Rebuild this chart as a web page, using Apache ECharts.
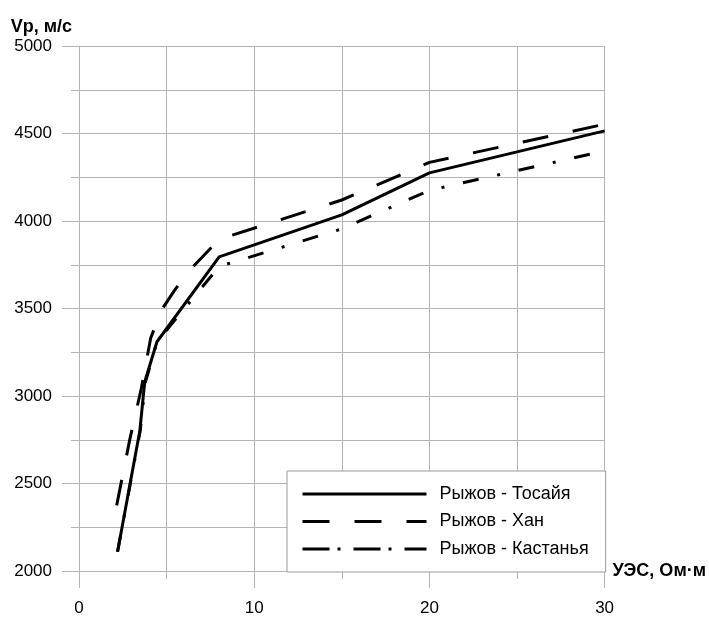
<!DOCTYPE html>
<html>
<head>
<meta charset="utf-8">
<script src="https://cdn.jsdelivr.net/npm/echarts@6/dist/echarts.min.js"></script>
<style>
html,body{margin:0;padding:0;background:#fff;}
#chart{width:709px;height:617px;}
</style>
</head>
<body>
<div id="chart"></div>
<script>
// Data
var seriesNames = ['Рыжов - Тосайя', 'Рыжов - Хан', 'Рыжов - Кастанья'];
var tosaiyaX = [2.2, 3.47, 3.75, 4.45, 8, 15, 20, 30];
var tosaiyaY = [2110, 2800, 3080, 3310, 3795, 4035, 4275, 4515];
var khanX = [2.15, 2.9, 3.56, 4.09, 4.7, 5.45, 6.4, 8, 15, 20, 30];
var khanY = [2375, 2752, 3045, 3330, 3490, 3604, 3727, 3895, 4120, 4335, 4553];
var kastanyaX = [2.2, 3.5, 3.78, 4.45, 8, 15, 20, 30];
var kastanyaY = [2110, 2805, 3075, 3310, 3740, 3955, 4175, 4400];
var xTickLabels = ['0', '10', '20', '30'];
var yTickLabels = ['2000', '2500', '3000', '3500', '4000', '4500', '5000'];
var xAxisName = 'УЭС, Ом·м';
var yAxisName = 'Vp, м/с';

function pairs(xs, ys) { return xs.map(function (x, i) { return [x, ys[i]]; }); }

var gridColor = '#b4b4b4';
var font = 'Liberation Sans, Arial, sans-serif';
var hiddenSymbol = {color: 'rgba(0,0,0,0)', borderColor: 'rgba(0,0,0,0)', borderWidth: 0, opacity: 0};

var chart = echarts.init(document.getElementById('chart'), null, {renderer: 'canvas'});
chart.setOption({
  animation: false,
  backgroundColor: '#fff',
  grid: {left: 79, right: 102, top: 46, bottom: 44, containLabel: false},
  xAxis: {
    type: 'value', min: 0, max: 30, interval: 10,
    name: xAxisName, nameLocation: 'end', nameGap: 8,
    nameTextStyle: {fontFamily: font, fontSize: 18, fontWeight: 'bold', color: '#000', verticalAlign: 'middle', padding: [0, 0, 6, 0]},
    axisLine: {show: true, lineStyle: {color: gridColor, width: 1}},
    axisTick: {show: true, length: 17, lineStyle: {color: gridColor, width: 1}},
    minorTick: {show: true, splitNumber: 2, length: 8, lineStyle: {color: gridColor, width: 1}},
    splitLine: {show: true, lineStyle: {color: gridColor, width: 1}},
    minorSplitLine: {show: true, lineStyle: {color: gridColor, width: 1}},
    axisLabel: {
      fontFamily: font, fontSize: 17, color: '#000', margin: 29,
      formatter: function (v) { var s = String(v); return xTickLabels.indexOf(s) >= 0 ? s : ''; }
    }
  },
  yAxis: {
    type: 'value', min: 2000, max: 5000, interval: 500,
    name: yAxisName, nameLocation: 'end', nameGap: 19,
    nameTextStyle: {fontFamily: font, fontSize: 18, fontWeight: 'bold', color: '#000', align: 'right', verticalAlign: 'middle', padding: [0, 7, 0, 0]},
    axisLine: {show: true, lineStyle: {color: gridColor, width: 1}},
    axisTick: {show: true, length: 17, lineStyle: {color: gridColor, width: 1}},
    minorTick: {show: true, splitNumber: 2, length: 8, lineStyle: {color: gridColor, width: 1}},
    splitLine: {show: true, lineStyle: {color: gridColor, width: 1}},
    minorSplitLine: {show: true, lineStyle: {color: gridColor, width: 1}},
    axisLabel: {
      fontFamily: font, fontSize: 17, color: '#000', margin: 27,
      formatter: function (v) { var s = String(v); return yTickLabels.indexOf(s) >= 0 ? s : ''; }
    }
  },
  legend: {
    orient: 'vertical', left: 287, top: 471,
    padding: [13.5, 17, 13.5, 14],
    itemWidth: 124, itemHeight: 19, itemGap: 8.5, itemTextGap: 16,
    backgroundColor: '#fff', borderColor: '#9a9a9a', borderWidth: 1, borderRadius: 0,
    itemStyle: hiddenSymbol,
    textStyle: {fontFamily: font, fontSize: 18, lineHeight: 19, color: '#000', padding: [0, 0, 0, 8]},
    data: [
      {name: seriesNames[0], itemStyle: hiddenSymbol, lineStyle: {color: '#000', width: 3, type: 'solid'}},
      {name: seriesNames[1], itemStyle: hiddenSymbol, lineStyle: {color: '#000', width: 3, type: [27, 25]}},
      {name: seriesNames[2], itemStyle: hiddenSymbol, lineStyle: {color: '#000', width: 3, type: [27, 8, 3, 13]}}
    ]
  },
  series: [
    {
      name: seriesNames[0], type: 'line', symbol: 'none', showSymbol: false,
      data: pairs(tosaiyaX, tosaiyaY),
      lineStyle: {color: '#000', width: 3, type: 'solid'},
      itemStyle: {color: '#000'}, z: 3
    },
    {
      name: seriesNames[1], type: 'line', symbol: 'none', showSymbol: false,
      data: pairs(khanX, khanY),
      lineStyle: {color: '#000', width: 3, type: [26, 25]},
      itemStyle: {color: '#000'}, z: 2
    },
    {
      name: seriesNames[2], type: 'line', symbol: 'none', showSymbol: false,
      data: pairs(kastanyaX, kastanyaY),
      lineStyle: {color: '#000', width: 3, type: [16, 19, 3, 19]},
      itemStyle: {color: '#000'}, z: 2
    }
  ]
});
</script>
</body>
</html>
